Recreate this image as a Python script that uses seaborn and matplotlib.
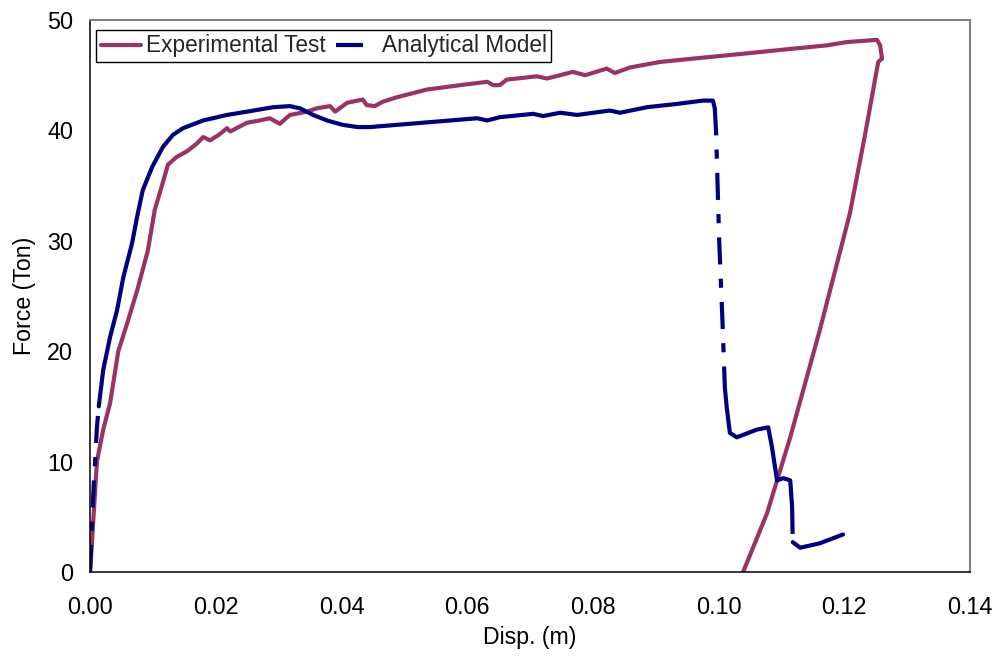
import matplotlib
matplotlib.use('Agg')
import matplotlib.pyplot as plt
import seaborn as sns
import pandas as pd

# Experimental Test (maroon)
exp_x = [0, 0.0003, 0.0011, 0.0021, 0.0032, 0.0045, 0.0059, 0.0075, 0.0092, 0.0103,
         0.0116, 0.0124, 0.0138, 0.0154, 0.0170, 0.0180, 0.0191, 0.0205, 0.0218, 0.0223,
         0.0250, 0.0270, 0.0286, 0.0302, 0.0318, 0.0345, 0.0361, 0.0382, 0.0390, 0.0409,
         0.0434, 0.0440, 0.0453, 0.0466, 0.0488, 0.0536, 0.0589, 0.0632, 0.0641, 0.0652,
         0.0663, 0.0711, 0.0727, 0.0748, 0.0768, 0.0788, 0.0822, 0.0835, 0.0859, 0.0907,
         0.0959, 0.1013, 0.1066, 0.1118, 0.1172, 0.1204, 0.1252, 0.1257, 0.1260, 0.1254,
         0.1233, 0.1209, 0.1161, 0.1114, 0.1077, 0.1039]
exp_y = [0, 2.6, 10.0, 12.9, 15.3, 20.0, 22.5, 25.5, 29.1, 32.8,
         35.3, 36.9, 37.6, 38.1, 38.8, 39.4, 39.1, 39.6, 40.2, 39.9,
         40.7, 40.9, 41.1, 40.6, 41.4, 41.7, 42.0, 42.2, 41.7, 42.5,
         42.8, 42.3, 42.2, 42.6, 43.0, 43.7, 44.1, 44.4, 44.1, 44.1,
         44.6, 44.9, 44.7, 45.0, 45.3, 45.0, 45.6, 45.2, 45.7, 46.2,
         46.5, 46.8, 47.1, 47.4, 47.7, 48.0, 48.2, 47.7, 46.5, 46.2,
         39.6, 32.5, 21.9, 12.2, 5.3, 0]

# Analytical Model (navy)
ana_x = [0, 0.0003, 0.0006, 0.0008, 0.0011, 0.0014, 0.0021, 0.0032, 0.0043, 0.0053,
         0.0067, 0.0075, 0.0084, 0.0099, 0.0116, 0.0132, 0.0148, 0.0180, 0.0218, 0.0250,
         0.0291, 0.0318, 0.0334, 0.0355, 0.0377, 0.0402, 0.0426, 0.0445, 0.0509, 0.0573,
         0.0616, 0.0632, 0.0652, 0.0705, 0.0721, 0.0748, 0.0775, 0.0827, 0.0843, 0.0886,
         0.0934, 0.0975, 0.0991, 0.0994, 0.0996, 0.1001, 0.1006, 0.1010, 0.1013, 0.1018,
         0.1029, 0.1061, 0.1079, 0.1085, 0.1093, 0.1103, 0.1114, 0.1117, 0.1118, 0.1130,
         0.1161, 0.1198]
ana_y = [0, 4.1, 8.0, 9.9, 13.1, 15.0, 18.3, 21.3, 23.7, 26.7,
         29.8, 32.2, 34.6, 36.7, 38.5, 39.6, 40.2, 40.9, 41.4, 41.7,
         42.1, 42.2, 42.0, 41.4, 40.9, 40.5, 40.3, 40.3, 40.6, 40.9,
         41.1, 40.9, 41.2, 41.5, 41.3, 41.6, 41.4, 41.8, 41.6, 42.1,
         42.4, 42.7, 42.7, 42.0, 39.9, 30.0, 23.0, 16.7, 14.9, 12.6,
         12.2, 12.9, 13.1, 11.3, 8.3, 8.5, 8.3, 5.9, 2.7, 2.2,
         2.6, 3.4]

x_ticks = [0.00, 0.02, 0.04, 0.06, 0.08, 0.10, 0.12, 0.14]
y_ticks = [0, 10, 20, 30, 40, 50]

exp_df = pd.DataFrame({'disp': exp_x, 'force': exp_y})
ana_df = pd.DataFrame({'disp': ana_x, 'force': ana_y})

sns.set_theme(style='white')
plt.rcParams['font.family'] = ['Liberation Sans', 'DejaVu Sans']

maroon = '#993366'
navy = '#000080'
dash = (0, (6.5, 3.4, 2.2, 3.4))

fig = plt.figure(figsize=(9.98, 6.59), dpi=100)
ax = fig.add_axes([90/998, 87/659, 880/998, 552/659])

sns.lineplot(data=exp_df, x='disp', y='force', sort=False, estimator=None,
             color=maroon, linewidth=3, label='Experimental Test', ax=ax)

# the model curve: sparse stretches dashed, dense stretches look solid
# (dash pattern restarts at each stretch, like the original)
dashed_parts = [(0, 6), (43, 48), (57, 59)]
solid_parts = [(5, 44), (47, 58), (58, 62)]
for i, (a, b) in enumerate(dashed_parts):
    sns.lineplot(data=ana_df.iloc[a:b], x='disp', y='force', sort=False,
                 estimator=None, color=navy, linewidth=3, linestyle=dash,
                 label='Analytical Model' if i == 0 else None,
                 legend=(i == 0), ax=ax)
for a, b in solid_parts:
    sns.lineplot(data=ana_df.iloc[a:b], x='disp', y='force', sort=False,
                 estimator=None, color=navy, linewidth=3, legend=False, ax=ax)

ax.set_xlim(0, 0.14)
ax.set_ylim(0, 50)
ax.set_xticks(x_ticks)
ax.set_xticklabels([f'{t:.2f}' for t in x_ticks])
ax.set_yticks(y_ticks)
ax.tick_params(axis='both', which='major', direction='out', length=5, width=1,
               color='black', labelsize=16.8, labelcolor='black')
ax.tick_params(axis='x', pad=12)
ax.tick_params(axis='y', pad=7)
ax.set_xlabel('Disp. (m)', fontsize=16.7, labelpad=5, color='black')
ax.set_ylabel('Force (Ton)', fontsize=16.7, labelpad=8, color='black')

for s in ['left', 'bottom']:
    ax.spines[s].set_color('black')
    ax.spines[s].set_linewidth(1.1)
for s in ['top', 'right']:
    ax.spines[s].set_color('#808080')
    ax.spines[s].set_linewidth(1.5)

leg = ax.legend(loc='upper left', bbox_to_anchor=(0.0068, 0.982), ncol=2,
                fontsize=16.3, frameon=True, fancybox=False, framealpha=1,
                handlelength=1.8, handletextpad=0.22, columnspacing=0.45,
                borderpad=0.2, borderaxespad=0)
leg.get_frame().set_edgecolor('black')
leg.get_frame().set_linewidth(1)

plt.savefig('out.png', dpi=100)
